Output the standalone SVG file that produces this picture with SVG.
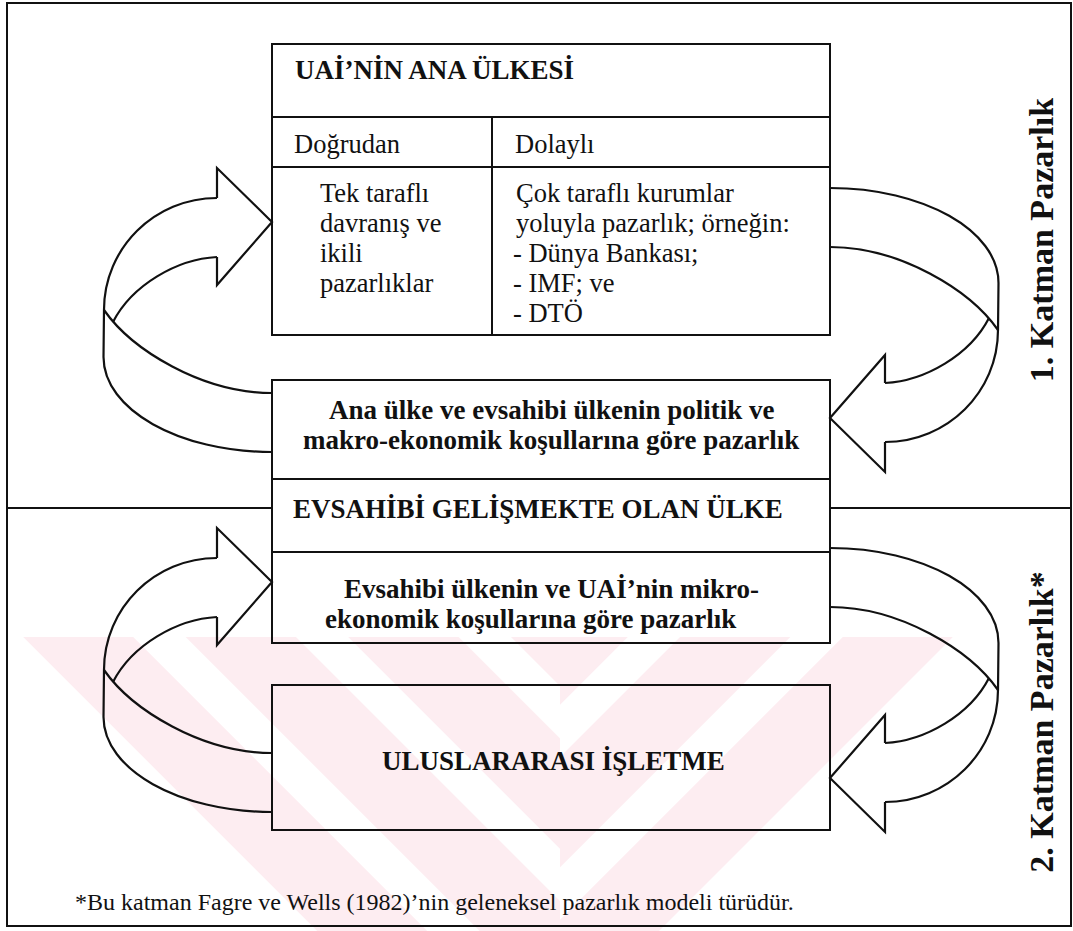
<svg xmlns="http://www.w3.org/2000/svg" xmlns:xlink="http://www.w3.org/1999/xlink" width="1073" height="931" viewBox="0 0 1073 931">
<style>
  .ln{fill:none;stroke:#111;stroke-width:2}
  .box{fill:none;stroke:#111;stroke-width:2}
  .arr{fill:none;stroke:#111;stroke-width:2.2;stroke-linejoin:miter}
  .t{font-family:"Liberation Serif","Times New Roman",serif;fill:#111}
  .r{font-size:26.5px}
  .b{font-size:27px;font-weight:bold}
  .lab{font-size:34px;font-weight:bold}
  .fn{font-size:24px}
</style>
<defs>
  <pattern id="pL" patternUnits="userSpaceOnUse" width="115" height="20" patternTransform="translate(23,637) rotate(-45)">
    <rect x="0" y="0" width="78" height="20" fill="#fdedf1"/>
  </pattern>
  <pattern id="pR" patternUnits="userSpaceOnUse" width="115" height="20" patternTransform="translate(953,637) rotate(45)">
    <rect x="-78" y="0" width="78" height="20" fill="#fdedf1"/>
    <rect x="37" y="0" width="78" height="20" fill="#fdedf1"/>
  </pattern>
  <g id="ca">
    <path class="arr" d="M -55,198 C -117.4,198 -168,248.1 -168,310 L -168.5,357 C -168.5,409.5 -93.1,452 0,452"/>
    <path class="arr" d="M -168,310 C -140,350 -70,393 0,393"/>
    <path class="arr" d="M -55,257 C -95,259 -140,285 -159,322"/>
    <path class="arr" d="M -55,198 L -55,168 L 0,222 L -55,285 L -55,257"/>
  </g>
</defs>
<rect width="1073" height="931" fill="#ffffff"/>
<g id="watermark">
  <polygon points="23,637 560,637 560,931 317,931" fill="url(#pL)"/>
  <polygon points="560,637 953,637 690,931 560,931" fill="url(#pR)"/>
</g>
<g id="frame">
  <rect class="box" x="7" y="3" width="1064" height="923" stroke-width="1.6"/>
  <line class="ln" x1="7" y1="508" x2="272" y2="508"/>
  <line class="ln" x1="830" y1="508" x2="1071" y2="508"/>
</g>
<g id="top-box">
  <rect class="box" x="272" y="44" width="558" height="291"/>
  <line class="ln" x1="272" y1="117" x2="830" y2="117"/>
  <line class="ln" x1="272" y1="167" x2="830" y2="167"/>
  <line class="ln" x1="492" y1="117" x2="492" y2="335"/>
  <text class="t b" x="295" y="79">UAİ’NİN ANA ÜLKESİ</text>
  <text class="t r" x="294" y="153">Doğrudan</text>
  <text class="t r" x="515" y="153">Dolaylı</text>
  <text class="t r" x="320" y="202">Tek taraflı</text>
  <text class="t r" x="320" y="232">davranış ve</text>
  <text class="t r" x="320" y="262">ikili</text>
  <text class="t r" x="320" y="292">pazarlıklar</text>
  <text class="t r" x="516" y="202">Çok taraflı kurumlar</text>
  <text class="t r" x="516" y="232">yoluyla pazarlık; örneğin:</text>
  <text class="t r" x="513" y="262">- Dünya Bankası;</text>
  <text class="t r" x="513" y="292">- IMF; ve</text>
  <text class="t r" x="513" y="322">- DTÖ</text>
</g>
<g id="middle-box">
  <rect class="box" x="272" y="380" width="558" height="263"/>
  <line class="ln" x1="272" y1="479" x2="830" y2="479"/>
  <line class="ln" x1="272" y1="552" x2="830" y2="552"/>
  <text class="t b" x="329" y="419">Ana ülke ve evsahibi ülkenin politik ve</text>
  <text class="t b" x="303" y="449">makro-ekonomik koşullarına göre pazarlık</text>
  <text class="t b" x="293" y="518">EVSAHİBİ GELİŞMEKTE OLAN ÜLKE</text>
  <text class="t b" x="344" y="598">Evsahibi ülkenin ve UAİ’nin mikro-</text>
  <text class="t b" x="325" y="628">ekonomik koşullarına göre pazarlık</text>
</g>
<g id="bottom-box">
  <rect class="box" x="272" y="685" width="558" height="145"/>
  <text class="t b" x="382" y="770">ULUSLARARASI İŞLETME</text>
</g>
<g id="connectors">
  <use xlink:href="#ca" href="#ca" transform="translate(272,0)"/>
  <use xlink:href="#ca" href="#ca" transform="translate(272,360)"/>
  <use xlink:href="#ca" href="#ca" transform="translate(830,640) scale(-1,-1)"/>
  <use xlink:href="#ca" href="#ca" transform="translate(830,1000) scale(-1,-1)"/>
</g>
<g id="layer-labels">
  <text class="t lab" text-anchor="middle" transform="translate(1053,240) rotate(-90)">1. Katman Pazarlık</text>
  <text class="t lab" text-anchor="middle" transform="translate(1053,722) rotate(-90)">2. Katman Pazarlık*</text>
</g>
<g id="footnote">
  <text class="t fn" x="75" y="910">*Bu katman Fagre ve Wells (1982)’nin geleneksel pazarlık modeli türüdür.</text>
</g>
</svg>
